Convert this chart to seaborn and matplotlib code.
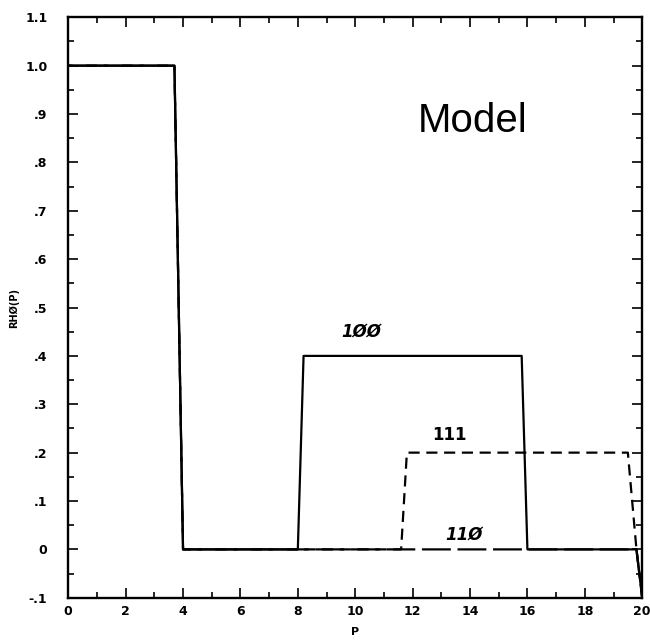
import pandas as pd
import matplotlib
matplotlib.use('Agg')
import matplotlib.pyplot as plt
import seaborn as sns
from matplotlib.ticker import MultipleLocator, FuncFormatter

# RHO(P) model curves for three directions
p_100 = [0, 3.7, 4.0, 8.0, 8.2, 15.8, 16.0, 19.8, 20.0]
rho_100 = [1.0, 1.0, 0.0, 0.0, 0.4, 0.4, 0.0, 0.0, -0.1]

p_111 = [0, 3.7, 4.0, 11.6, 11.8, 19.5, 19.8, 20.0]
rho_111 = [1.0, 1.0, 0.0, 0.0, 0.2, 0.2, 0.0, -0.1]

p_110 = [0, 3.7, 4.0, 19.8, 20.0]
rho_110 = [1.0, 1.0, 0.0, 0.0, -0.1]

labels = ['1ØØ', '111', '11Ø']


def fmt_y(v, pos):
    v = round(v, 2)
    if abs(v) < 1e-9:
        return '0'
    if abs(v) >= 1:
        return f'{v:.1f}'
    return f'{v:.1f}'.replace('0.', '.')


def main():
    sns.set_style('ticks')
    plt.rcParams['font.family'] = ['DejaVu Sans']
    for k in ['text.color', 'axes.labelcolor', 'xtick.color', 'ytick.color',
              'axes.edgecolor']:
        plt.rcParams[k] = 'black'

    fig = plt.figure(figsize=(6.5, 6.4), dpi=100)
    ax = fig.add_axes([0.105, 0.066, 0.883, 0.907])

    # the two dash patterns interlock so the shared stretch of baseline looks solid
    sns.lineplot(x=p_110, y=rho_110, ax=ax, color='black', lw=1.6,
                 linestyle=(11, (13, 3)), sort=False)
    sns.lineplot(x=p_111, y=rho_111, ax=ax, color='black', lw=1.6,
                 linestyle=(0, (5, 3)), sort=False)
    sns.lineplot(x=p_100, y=rho_100, ax=ax, color='black', lw=1.6, sort=False)

    ax.set_xlim(0, 20)
    ax.set_ylim(-0.1, 1.1)
    ax.xaxis.set_major_locator(MultipleLocator(2))
    ax.xaxis.set_minor_locator(MultipleLocator(1))
    ax.yaxis.set_major_locator(MultipleLocator(0.1))
    ax.yaxis.set_minor_locator(MultipleLocator(0.05))
    ax.yaxis.set_major_formatter(FuncFormatter(fmt_y))
    ax.tick_params(which='both', direction='in', top=True, right=True,
                   width=1.2, labelsize=9)
    ax.tick_params(which='major', length=7)
    ax.tick_params(which='minor', length=4)
    ax.tick_params(axis='y', which='major', pad=15)
    ax.tick_params(axis='x', which='major', pad=5)
    for lab in ax.get_xticklabels() + ax.get_yticklabels():
        lab.set_fontweight('bold')
    for s in ax.spines.values():
        s.set_linewidth(1.7)

    ax.set_xlabel('P', fontsize=8, fontweight='bold', labelpad=7)
    ax.set_ylabel('RHØ(P)', fontsize=7, fontweight='bold', labelpad=4)

    ax.text(10.2, 0.45, labels[0], fontsize=12, fontweight='bold',
            fontstyle='italic', ha='center', va='center')
    ax.text(13.3, 0.237, labels[1], fontsize=12, fontweight='bold',
            ha='center', va='center')
    ax.text(13.8, 0.03, labels[2], fontsize=12, fontweight='bold',
            fontstyle='italic', ha='center', va='center')
    ax.text(14.1, 0.885, 'Model', fontsize=29, family='Liberation Sans',
            ha='center', va='center')

    fig.savefig('out.png', dpi=100)


if __name__ == "__main__":
    main()
